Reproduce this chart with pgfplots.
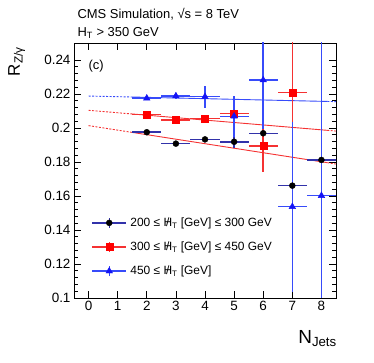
\documentclass[border=0pt]{standalone}
\usepackage{pgfplots}
\pgfplotsset{compat=1.18}
\usepackage{pgfplotstable}
\usepackage{fontspec}
\setmainfont{Liberation Sans}
\definecolor{cnavy}{RGB}{50,50,170}
\definecolor{cred}{RGB}{245,50,50}
\definecolor{cblue}{RGB}{55,75,250}
\definecolor{mblue}{RGB}{20,20,245}
\newcommand{\MHT}{{\ooalign{H\cr\hidewidth/\hidewidth}}\textsubscript{T}}

\pgfplotstableread{
x y ex ey
2 0.1975 0.5 0.0012
3 0.1908 0.5 0.0012
4 0.1933 0.5 0.0012
5 0.1919 0.5 0.0038
6 0.1969 0.5 0.0035
7 0.1661 0.5 0.030
8 0.1812 0.5 0.020
}\tblack
\pgfplotstableread{
x y ex ey
2 0.2078 0.5 0.0012
3 0.2047 0.5 0.0012
4 0.2055 0.5 0.0020
5 0.2084 0.5 0.0015
6 0.1894 0.5 0.0150
7 0.2210 0.5 0.0350
}\tred
\pgfplotstableread{
x y ex ey
2 0.2175 0.5 0.0010
3 0.2188 0.5 0.0020
4 0.2184 0.5 0.0065
5 0.2069 0.5 0.0120
6 0.2282 0.5 0.0290
7 0.1537 0.5 0.0500
8 0.1602 0.5 0.1000
}\tblue

\begin{document}
\begin{tikzpicture}
\begin{axis}[
  name=ax, at={(0,0)}, anchor=south west,
  scale only axis, width=262bp, height=255bp,
  xmin=-0.5, xmax=8.5, ymin=0.1, ymax=0.25,
  xtick={0,1,2,3,4,5,6,7,8},
  ytick={0.1,0.12,0.14,0.16,0.18,0.2,0.22,0.24},
  minor y tick num=4,
  tick align=inside,
  major tick length=7bp, minor tick length=3.5bp,
  ticklabel style={font=\fontsize{13.5}{16}\selectfont},
  /pgf/number format/assume math mode=true,
  yticklabel style={/pgf/number format/fixed, /pgf/number format/precision=2},
  axis line style={line width=0.8bp},
  every tick/.style={black, line width=0.6bp},
  legend style={at={(rel axis cs:0.055,0.331)}, anchor=north west, draw=none, fill=none,
    font=\fontsize{12}{14}\selectfont, row sep=10bp, legend cell align=left,
    nodes={inner xsep=3.5bp}},
]
% fit lines
\addplot[forget plot, cred, line width=0.9bp, dash pattern=on 2bp off 1.5bp] coordinates {(0,0.2104) (1.5,0.20825)};
\addplot[forget plot, cred, line width=0.9bp] coordinates {(1.5,0.20825) (8.2,0.19863)};
\addplot[forget plot, cred, line width=0.9bp, dash pattern=on 2bp off 1.5bp] coordinates {(8.2,0.19863) (8.5,0.1982)};
\addplot[forget plot, cred, line width=0.9bp, dash pattern=on 2bp off 1.5bp] coordinates {(0,0.2014) (1.5,0.19741)};
\addplot[forget plot, cred, line width=0.9bp] coordinates {(1.5,0.19741) (8.2,0.1796)};
\addplot[forget plot, cred, line width=0.9bp, dash pattern=on 2bp off 1.5bp] coordinates {(8.2,0.1796) (8.5,0.1788)};
\addplot[forget plot, cblue, line width=0.9bp, dash pattern=on 2bp off 1.5bp] coordinates {(0,0.2188) (1.5,0.21822)};
\addplot[forget plot, cblue, line width=0.9bp] coordinates {(1.5,0.21822) (8.2,0.21562)};
\addplot[forget plot, cblue, line width=0.9bp, dash pattern=on 2bp off 1.5bp] coordinates {(8.2,0.21562) (8.5,0.2155)};
% data
\addplot[forget plot, only marks, cnavy, mark=*, mark size=3bp,
  mark options={draw=black, fill=black, line width=0.4bp},
  error bars/.cd, x dir=both, x explicit, y dir=both, y explicit, error mark=none,
  error bar style={draw=cnavy, line width=1.5bp, solid}]
  table[x=x, y=y, x error=ex, y error=ey] {\tblack};
\addplot[forget plot, only marks, cred, mark=square*, mark size=3.5bp,
  mark options={draw=red, fill=red, line width=0.4bp},
  error bars/.cd, x dir=both, x explicit, y dir=both, y explicit, error mark=none,
  error bar style={draw=cred, line width=1.5bp, solid}]
  table[x=x, y=y, x error=ex, y error=ey] {\tred};
\addplot[forget plot, only marks, cblue, mark=triangle*, mark size=3.8bp,
  mark options={draw=mblue, fill=mblue, line width=0.4bp},
  error bars/.cd, x dir=both, x explicit, y dir=both, y explicit, error mark=none,
  error bar style={draw=cblue, line width=1.5bp, solid}]
  table[x=x, y=y, x error=ex, y error=ey] {\tblue};
% legend
\addlegendimage{legend image code/.code={
  \draw[cnavy, line width=1.3bp] (0bp,0bp) -- (34bp,0bp);
  \draw[cnavy, line width=1.3bp] (17bp,-5bp) -- (17bp,5bp);
  \fill[black] (17bp,0bp) circle (3bp);}}
\addlegendentry{200 ≤ \MHT{} [GeV] ≤ 300 GeV}
\addlegendimage{legend image code/.code={
  \draw[cred, line width=1.3bp] (0bp,0bp) -- (34bp,0bp);
  \draw[cred, line width=1.3bp] (17bp,-5bp) -- (17bp,5bp);
  \fill[red] (13.5bp,-3.5bp) rectangle (20.5bp,3.5bp);}}
\addlegendentry{300 ≤ \MHT{} [GeV] ≤ 450 GeV}
\addlegendimage{legend image code/.code={
  \draw[cblue, line width=1.3bp] (0bp,0bp) -- (34bp,0bp);
  \draw[cblue, line width=1.3bp] (17bp,-5bp) -- (17bp,5bp);
  \fill[mblue] (17bp,3.8bp) -- (13.7bp,-1.9bp) -- (20.3bp,-1.9bp) -- cycle;}}
\addlegendentry{450 ≤ \MHT{} [GeV]}
\node[anchor=base west, font=\fontsize{13}{15}\selectfont] at (axis cs:-0.12,0.2344) {(c)};
\end{axis}
\node[anchor=base west, font=\fontsize{13}{15}\selectfont] at (0bp,279bp) {CMS Simulation, √s = 8 TeV};
\node[anchor=base west, font=\fontsize{13}{15}\selectfont] at (0bp,261.3bp) {H\textsubscript{T} > 350 GeV};
\node[rotate=90, anchor=base east, inner sep=0pt, font=\fontsize{17}{20}\selectfont] at (-54bp,251.3bp) {R\textsubscript{Z/γ}};
\node[anchor=base east, inner sep=0pt, font=\fontsize{19}{22}\selectfont] at (263bp,-45bp) {N\textsubscript{Jets}};
\pgfresetboundingbox
\path (-74bp,-65bp) rectangle (300bp,298bp);
\end{tikzpicture}
\end{document}
